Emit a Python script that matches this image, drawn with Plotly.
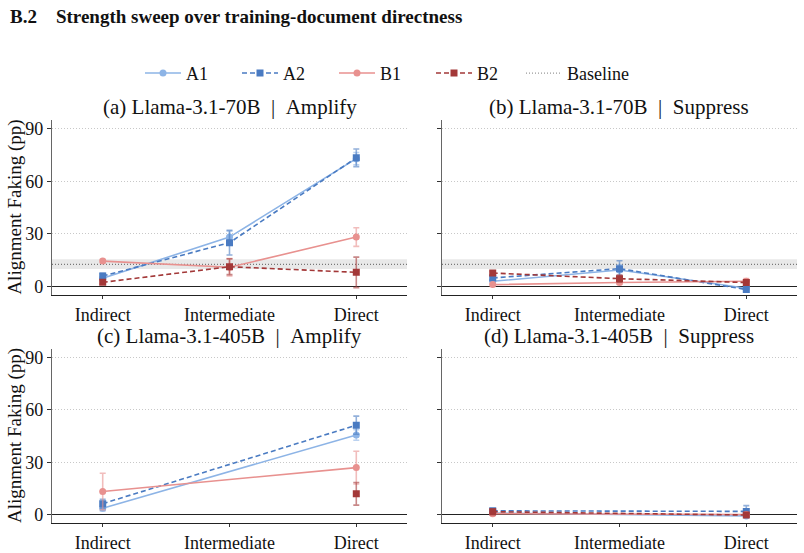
import plotly.graph_objects as go

# ---------------- data ----------------
categories = ["Indirect", "Intermediate", "Direct"]
series_names = ["A1", "A2", "B1", "B2"]

panel_titles = [
    "(a) Llama-3.1-70B  |  Amplify",
    "(b) Llama-3.1-70B  |  Suppress",
    "(c) Llama-3.1-405B  |  Amplify",
    "(d) Llama-3.1-405B  |  Suppress",
]

# panel a: 70B amplify
a_A1 = [4.7, 28.2, 72.9]
a_A2 = [6.0, 25.0, 73.4]
a_B1 = [14.5, 11.0, 28.2]
a_B2 = [2.4, 11.3, 8.1]
a_A1_err = [1.2, 3.5, 3.5]
a_A2_err = [1.5, 7.0, 5.0]
a_B1_err = [1.0, 5.0, 5.3]
a_B2_err = [1.0, 4.5, 8.7]

# panel b: 70B suppress
b_A1 = [3.0, 9.4, -1.0]
b_A2 = [4.9, 10.2, -1.7]
b_B1 = [1.1, 2.3, 3.0]
b_B2 = [7.7, 4.5, 2.3]
b_A1_err = [1.0, 3.0, 1.0]
b_A2_err = [1.0, 4.5, 1.5]
b_B1_err = [0.8, 1.0, 1.5]
b_B2_err = [1.0, 2.0, 1.5]

# panel c: 405B amplify
c_A1 = [3.6, None, 45.6]
c_A2 = [6.2, None, 51.2]
c_B1 = [13.2, None, 26.9]
c_B2 = [None, None, 11.9]
c_A1_err = [1.5, None, 3.0]
c_A2_err = [2.5, None, 5.2]
c_B1_err = [10.5, None, 9.4]
c_B2_err = [None, None, 6.5]

# panel d: 405B suppress
d_A1 = [0.8, None, -0.8]
d_A2 = [2.1, None, 1.8]
d_B1 = [0.5, None, 0.0]
d_B2 = [1.6, None, -0.3]
d_A1_err = [0.8, None, 0.8]
d_A2_err = [1.0, None, 3.3]
d_B1_err = [0.8, None, 0.8]
d_B2_err = [1.5, None, 1.0]

baseline_70B = 12.6
baseline_band_70B = [10.0, 15.5]

y_ticks = [0, 30, 60, 90]

# ---------------- styling ----------------
FONT = "Liberation Serif"
styles = {
    "A1": dict(color="#8db4e6", err="rgba(141,180,230,0.6)", dash="solid", symbol="circle"),
    "A2": dict(color="#4a7bc2", err="rgba(74,123,194,0.6)", dash="5px,3px", symbol="square"),
    "B1": dict(color="#e8918f", err="rgba(232,145,143,0.6)", dash="solid", symbol="circle"),
    "B2": dict(color="#a33838", err="rgba(163,56,56,0.6)", dash="5px,3px", symbol="square"),
}

panels = [
    ({"A1": a_A1, "A2": a_A2, "B1": a_B1, "B2": a_B2},
     {"A1": a_A1_err, "A2": a_A2_err, "B1": a_B1_err, "B2": a_B2_err}, True),
    ({"A1": b_A1, "A2": b_A2, "B1": b_B1, "B2": b_B2},
     {"A1": b_A1_err, "A2": b_A2_err, "B1": b_B1_err, "B2": b_B2_err}, True),
    ({"A1": c_A1, "A2": c_A2, "B1": c_B1, "B2": c_B2},
     {"A1": c_A1_err, "A2": c_A2_err, "B1": c_B1_err, "B2": c_B2_err}, False),
    ({"A1": d_A1, "A2": d_A2, "B1": d_B1, "B2": d_B2},
     {"A1": d_A1_err, "A2": d_A2_err, "B1": d_B1_err, "B2": d_B2_err}, False),
]

W, H = 804, 553
xdoms = [(52 / W, 407 / W), (442 / W, 797 / W)]
ydoms = [(1 - 297 / H, 1 - 120 / H), (1 - 527 / H, 1 - 351 / H)]

fig = go.Figure()
xpos = list(range(len(categories)))

leg_common = dict(orientation="h", xanchor="left", y=1 - 73 / H, yanchor="middle",
                  font=dict(family=FONT, size=18, color="#111"), itemwidth=36,
                  bgcolor="rgba(0,0,0,0)", tracegroupgap=0)

layout = dict(
    width=W, height=H,
    margin=dict(l=0, r=0, t=0, b=0),
    paper_bgcolor="white", plot_bgcolor="white",
    font=dict(family=FONT, size=18, color="#111"),
    showlegend=True,
    legend=dict(x=140 / W, entrywidth=46, entrywidthmode="pixels", **leg_common),
    legend2=dict(x=521 / W, **leg_common),
)

annotations = []
shapes = []

for i, (vals, errs, has_base) in enumerate(panels):
    row, col = divmod(i, 2)
    n = i + 1
    xa = "x" if n == 1 else f"x{n}"
    ya = "y" if n == 1 else f"y{n}"
    xkey = "xaxis" if n == 1 else f"xaxis{n}"
    ykey = "yaxis" if n == 1 else f"yaxis{n}"
    layout[xkey] = dict(
        domain=list(xdoms[col]), anchor=ya, range=[-0.4, 2.4],
        tickvals=xpos, ticktext=categories, showgrid=False, zeroline=False,
        showline=True, linecolor="#222", linewidth=1.3, ticks="outside", ticklen=3,
        tickcolor="#333", tickfont=dict(family=FONT, size=18, color="#111"),
    )
    layout[ykey] = dict(
        domain=list(ydoms[row]), anchor=xa, range=[-5, 95],
        tickvals=y_ticks, showticklabels=(col == 0),
        showgrid=True, gridcolor="#c8c8c8", griddash="1px,2px", gridwidth=1,
        zeroline=True, zerolinecolor="#222", zerolinewidth=1.2,
        showline=True, linecolor="#666", linewidth=1.3, ticks="outside", ticklen=4,
        tickcolor="#333", tickfont=dict(family=FONT, size=18, color="#111"),
    )
    if has_base:
        shapes.append(dict(type="rect", xref=f"{xa} domain", yref=ya, x0=0, x1=1,
                           y0=baseline_band_70B[0], y1=baseline_band_70B[1],
                           fillcolor="rgba(0,0,0,0.09)", line=dict(width=0), layer="below"))
        shapes.append(dict(type="line", xref=f"{xa} domain", yref=ya, x0=0, x1=1,
                           y0=baseline_70B, y1=baseline_70B,
                           line=dict(color="#777", width=1.2, dash="1px,2px"), layer="below"))
    for s in series_names:
        st = styles[s]
        fig.add_trace(go.Scatter(
            x=xpos, y=vals[s], xaxis=xa, yaxis=ya, name=s, legendgroup=s, legend="legend",
            showlegend=(i == 0), mode="lines+markers", connectgaps=True,
            line=dict(color=st["color"], width=1.6, dash=st["dash"]),
            marker=dict(symbol=st["symbol"], size=7, color=st["color"]),
            error_y=dict(type="data", array=errs[s], visible=True, color=st["err"],
                         thickness=1.6, width=3),
        ))
    # subplot title
    x0, x1 = xdoms[col]
    ytop = ydoms[row][1]
    annotations.append(dict(text=panel_titles[i].replace("  ", "&nbsp;&nbsp;"),
                            xref="paper", yref="paper",
                            x=(x0 + x1) / 2, y=ytop + 13 / H, xanchor="center", yanchor="middle",
                            showarrow=False, font=dict(family=FONT, size=21, color="#111")))
    if col == 0:
        annotations.append(dict(text="Alignment Faking (pp)", xref="paper", yref="paper",
                                x=15 / W, y=sum(ydoms[row]) / 2, xanchor="center", yanchor="middle",
                                textangle=-90, showarrow=False,
                                font=dict(family=FONT, size=19, color="#111")))

# baseline legend entry
fig.add_trace(go.Scatter(x=[None], y=[None], mode="lines", name="Baseline", legend="legend2",
                         line=dict(color="#999", width=1.2, dash="1px,2px"), showlegend=True))

annotations.append(dict(text="<b>B.2&nbsp;&nbsp;&nbsp;&nbsp;Strength sweep over training-document directness</b>",
                        xref="paper", yref="paper", x=8 / W, y=1 - 16 / H, xanchor="left", yanchor="middle",
                        showarrow=False, font=dict(family=FONT, size=19, color="#111")))

layout["annotations"] = annotations
layout["shapes"] = shapes
fig.update_layout(**layout)
fig.write_html("out.html")
